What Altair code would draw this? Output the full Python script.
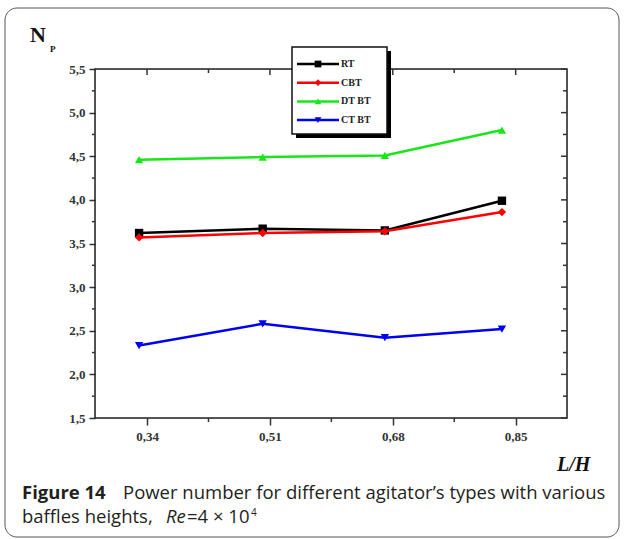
import altair as alt
import pandas as pd

# ---- data ----
lh = [0.329, 0.500, 0.669, 0.831]          # plotted L/H positions
series = ["RT", "CBT", "DT BT", "CT BT"]
rt = [3.62, 3.67, 3.65, 3.99]
cbt = [3.57, 3.62, 3.64, 3.86]
dtbt = [4.46, 4.49, 4.51, 4.80]
ctbt = [2.33, 2.58, 2.42, 2.52]
x_ticks = [0.34, 0.51, 0.68, 0.85]
x_minor = [0.425, 0.595, 0.765]
y_ticks = [1.5, 2.0, 2.5, 3.0, 3.5, 4.0, 4.5, 5.0, 5.5]
y_minor = [1.75, 2.25, 2.75, 3.25, 3.75, 4.25, 4.75, 5.25]

colors = ["#000000", "#ff0000", "#19e619", "#0000f0"]
shapes = ["square", "diamond", "triangle-up", "triangle-down"]
values = [rt, cbt, dtbt, ctbt]

W, H = 472, 349
xs = alt.Scale(domain=[0.268, 0.921], nice=False, zero=False)
ys = alt.Scale(domain=[1.5, 5.5], nice=False, zero=False)

rows = []
for s, v in zip(series, values):
    for x, y in zip(lh, v):
        rows.append({"series": s, "lh": x, "np": y})
df = pd.DataFrame(rows)
one = pd.DataFrame({"k": [0]})

axis_common = dict(domain=False, grid=False, labelFont="Liberation Serif", labelFontWeight="bold",
                   labelFontSize=13, labelColor="#333333", tickColor="#333333", tickWidth=1.5,
                   title=None)

base = alt.Chart(df)
layers = []

# axes carrier
layers.append(base.mark_point(opacity=0).encode(
    x=alt.X("lh:Q", scale=xs, axis=alt.Axis(values=x_ticks, tickSize=7, labelPadding=5,
            labelExpr="replace(format(datum.value, '.2f'), '.', ',')", **axis_common)),
    y=alt.Y("np:Q", scale=ys, axis=alt.Axis(values=y_ticks, tickSize=6, labelPadding=4,
            labelExpr="replace(format(datum.value, '.1f'), '.', ',')", **axis_common)),
))

# frame
layers.append(alt.Chart(one).mark_rect(fill=None, stroke="#222222", strokeWidth=1.5).encode(
    x=alt.value(0), x2=alt.value(W), y=alt.value(0), y2=alt.value(H)))

xmaj = alt.Chart(pd.DataFrame({"v": x_ticks}))
xmin = alt.Chart(pd.DataFrame({"v": x_minor}))
ymaj = alt.Chart(pd.DataFrame({"v": y_ticks}))
ymin = alt.Chart(pd.DataFrame({"v": y_minor}))
tk = dict(color="#333333", strokeWidth=1.5)
layers += [
    xmin.mark_rule(**tk).encode(x=alt.X("v:Q", scale=xs), y=alt.value(H), y2=alt.value(H + 4)),
    xmaj.mark_rule(**tk).encode(x=alt.X("v:Q", scale=xs), y=alt.value(0), y2=alt.value(6)),
    xmin.mark_rule(**tk).encode(x=alt.X("v:Q", scale=xs), y=alt.value(0), y2=alt.value(4)),
    ymin.mark_rule(**tk).encode(y=alt.Y("v:Q", scale=ys), x=alt.value(-3), x2=alt.value(0)),
    ymaj.mark_rule(**tk).encode(y=alt.Y("v:Q", scale=ys), x=alt.value(W - 6), x2=alt.value(W)),
    ymin.mark_rule(**tk).encode(y=alt.Y("v:Q", scale=ys), x=alt.value(W - 4), x2=alt.value(W)),
]

# series lines and markers
for s, c, sh in zip(series, colors, shapes):
    sub = base.transform_filter(alt.datum.series == s)
    layers.append(sub.mark_line(color=c, strokeWidth=2.5).encode(
        x=alt.X("lh:Q", scale=xs), y=alt.Y("np:Q", scale=ys)))
    layers.append(sub.mark_point(color=c, shape=sh, filled=True, size=70, opacity=1).encode(
        x=alt.X("lh:Q", scale=xs), y=alt.Y("np:Q", scale=ys)))

# legend box (shadow + box)
layers.append(alt.Chart(one).mark_rect(fill="#000000").encode(
    x=alt.value(201), x2=alt.value(296), y=alt.value(-18), y2=alt.value(69)))
layers.append(alt.Chart(one).mark_rect(fill="white", stroke="#111111", strokeWidth=1.5).encode(
    x=alt.value(197), x2=alt.value(292), y=alt.value(-22), y2=alt.value(65)))
for i, (s, c, sh) in enumerate(zip(series, colors, shapes)):
    yy = -5 + i * 18.7
    d = alt.Chart(pd.DataFrame({"series": [s]}))
    layers.append(d.mark_rule(color=c, strokeWidth=2.5).encode(
        x=alt.value(202), x2=alt.value(244), y=alt.value(yy)))
    layers.append(d.mark_point(color=c, shape=sh, filled=True, size=45, opacity=1).encode(
        x=alt.value(223), y=alt.value(yy)))
    layers.append(d.mark_text(align="left", baseline="middle", font="Liberation Serif",
                              fontWeight="bold", fontSize=10, color="#222222").encode(
        text="series:N", x=alt.value(246), y=alt.value(yy)))

# titles
def txt(t, x, y, **kw):
    return alt.Chart(one).mark_text(text=t, align="left", baseline="alphabetic", **kw).encode(
        x=alt.value(x), y=alt.value(y))

layers.append(txt("N", -65, -27, font="Liberation Serif", fontWeight="bold", fontSize=22, color="#111111"))
layers.append(txt("P", -45, -17, font="Liberation Serif", fontWeight="bold", fontSize=9, color="#111111"))
layers.append(txt("L/H", 462, 402, font="Liberation Serif", fontWeight="bold", fontStyle="italic",
                  fontSize=20, color="#111111"))

# outer rounded border
layers.append(alt.Chart(one).mark_rect(fill=None, stroke="#555555", strokeWidth=1, cornerRadius=12).encode(
    x=alt.value(-90), x2=alt.value(524), y=alt.value(-61), y2=alt.value(468)))

# caption
cf = dict(font="Open Sans", fontSize=18.5, color="#231f20")
layers.append(txt("Figure 14", -73, 430, fontWeight="bold", **cf))
layers.append(txt("Power number for different agitator\u2019s types with various", 28, 430, **cf))
layers.append(txt("baffles heights,", -73, 454, **cf))
layers.append(txt("Re", 71, 454, fontStyle="italic", **cf))
layers.append(txt("=4 \u00d7 10", 92, 454, **cf))
layers.append(txt("4", 156, 447, font="Open Sans", fontSize=10, color="#231f20"))

chart = alt.layer(*layers).properties(
    width=W, height=H,
    padding={"left": 95, "top": 69, "right": 57, "bottom": 121},
    autosize=alt.AutoSizeParams(type="none"),
).configure_view(stroke=None).configure(background="white")

chart.save("out.html", embed_options={"renderer": "svg", "actions": False})
